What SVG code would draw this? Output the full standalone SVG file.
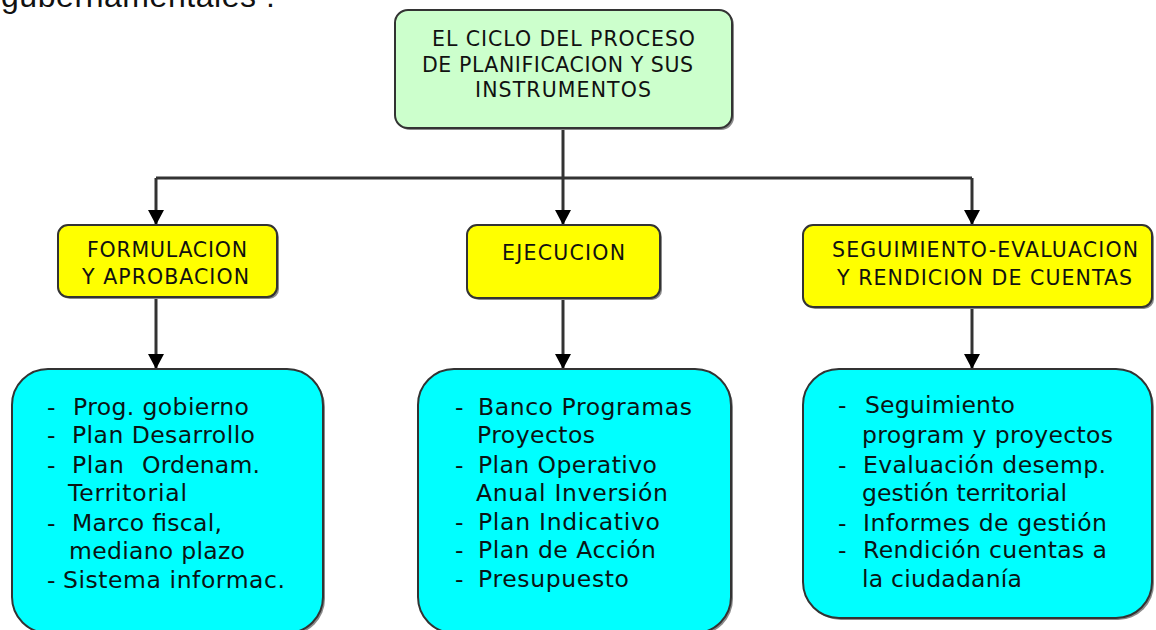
<svg xmlns="http://www.w3.org/2000/svg" width="1156" height="630" viewBox="0 0 1156 630">
<defs>
<style>
.sh{fill:#8a8a8a;stroke:none}
.box{stroke:#333;stroke-width:2}
.g{fill:#CCFFCC}
.y{fill:#FFFF00}
.c{fill:#00FFFF}
.hd{font-family:"DejaVu Sans",Verdana,sans-serif;font-size:20.5px;fill:#111}
.it{font-family:"DejaVu Sans",Verdana,sans-serif;font-size:23.5px;fill:#0a1414}
.conn{stroke:#333;stroke-width:3;fill:none}
</style>
<marker id="arr" markerWidth="15" markerHeight="16" refX="15" refY="8" orient="auto" markerUnits="userSpaceOnUse">
<path d="M0,0 L15,8 L0,16 z" fill="#000"/>
</marker>
</defs>
<rect width="1156" height="630" fill="#fff"/>
<text x="1" y="7" font-family="Liberation Sans,Arial,sans-serif" font-size="32" fill="#111" textLength="274" lengthAdjust="spacing">gubernamentales :</text>

<g id="connectors">
<path class="conn" d="M563,128 V178"/>
<path class="conn" d="M156,178 H972"/>
<path class="conn" d="M156,178 V225" marker-end="url(#arr)"/>
<path class="conn" d="M563,178 V225" marker-end="url(#arr)"/>
<path class="conn" d="M972,178 V225" marker-end="url(#arr)"/>
<path class="conn" d="M156,297 V369" marker-end="url(#arr)"/>
<path class="conn" d="M563,298 V369" marker-end="url(#arr)"/>
<path class="conn" d="M972,307 V369" marker-end="url(#arr)"/>
</g>

<g id="top">
<rect class="sh" x="397" y="12" width="337" height="118" rx="13"/>
<rect class="box g" x="395" y="10" width="337" height="118" rx="13"/>
<text class="hd" x="432" y="46" textLength="263" lengthAdjust="spacing">EL CICLO DEL PROCESO</text>
<text class="hd" x="422" y="72" textLength="271" lengthAdjust="spacing">DE PLANIFICACION Y SUS</text>
<text class="hd" x="475" y="97" textLength="176" lengthAdjust="spacing">INSTRUMENTOS</text>
</g>

<g id="formulacion">
<rect class="sh" x="60" y="227" width="219" height="72" rx="10"/>
<rect class="box y" x="58" y="225" width="219" height="72" rx="10"/>
<text class="hd" x="87" y="257" textLength="160" lengthAdjust="spacing">FORMULACION</text>
<text class="hd" x="82" y="284" textLength="167" lengthAdjust="spacing">Y APROBACION</text>
</g>

<g id="ejecucion">
<rect class="sh" x="469" y="227" width="193" height="73" rx="10"/>
<rect class="box y" x="467" y="225" width="193" height="73" rx="10"/>
<text class="hd" x="502" y="260" textLength="123" lengthAdjust="spacing">EJECUCION</text>
</g>

<g id="seguimiento">
<rect class="sh" x="805" y="227" width="349" height="82" rx="10"/>
<rect class="box y" x="803" y="225" width="349" height="82" rx="10"/>
<text class="hd" x="832" y="257" textLength="306" lengthAdjust="spacing">SEGUIMIENTO-EVALUACION</text>
<text class="hd" x="837" y="285" textLength="295" lengthAdjust="spacing">Y RENDICION DE CUENTAS</text>
</g>

<g id="instr-formulacion">
<rect class="sh" x="14" y="371" width="311" height="264" rx="36"/>
<rect class="box c" x="12" y="369" width="311" height="264" rx="36"/>
<text class="it" x="47" y="415">-</text><text class="it" x="73" y="415" textLength="176" lengthAdjust="spacing">Prog. gobierno</text>
<text class="it" x="47" y="443">-</text><text class="it" x="72" y="443" textLength="183" lengthAdjust="spacing">Plan Desarrollo</text>
<text class="it" x="47" y="473">-</text><text class="it" x="72" y="473" textLength="52" lengthAdjust="spacing">Plan</text><text class="it" x="142" y="473" textLength="118" lengthAdjust="spacing">Ordenam.</text>
<text class="it" x="68" y="501" textLength="119" lengthAdjust="spacing">Territorial</text>
<text class="it" x="47" y="531">-</text><text class="it" x="72" y="531" textLength="150" lengthAdjust="spacing">Marco fiscal,</text>
<text class="it" x="69" y="559" textLength="176" lengthAdjust="spacing">mediano plazo</text>
<text class="it" x="47" y="588">-</text><text class="it" x="63" y="588" textLength="222" lengthAdjust="spacing">Sistema informac.</text>
</g>

<g id="instr-ejecucion">
<rect class="sh" x="420" y="371" width="313" height="264" rx="36"/>
<rect class="box c" x="418" y="369" width="313" height="264" rx="36"/>
<text class="it" x="455" y="415">-</text><text class="it" x="478" y="415" textLength="214" lengthAdjust="spacing">Banco Programas</text>
<text class="it" x="477" y="443" textLength="118" lengthAdjust="spacing">Proyectos</text>
<text class="it" x="455" y="473">-</text><text class="it" x="478" y="473" textLength="179" lengthAdjust="spacing">Plan Operativo</text>
<text class="it" x="476" y="501" textLength="192" lengthAdjust="spacing">Anual Inversión</text>
<text class="it" x="455" y="530">-</text><text class="it" x="478" y="530" textLength="182" lengthAdjust="spacing">Plan Indicativo</text>
<text class="it" x="455" y="558">-</text><text class="it" x="478" y="558" textLength="178" lengthAdjust="spacing">Plan de Acción</text>
<text class="it" x="455" y="587">-</text><text class="it" x="478" y="587" textLength="151" lengthAdjust="spacing">Presupuesto</text>
</g>

<g id="instr-seguimiento">
<rect class="sh" x="805" y="371" width="349" height="249" rx="36"/>
<rect class="box c" x="803" y="369" width="349" height="249" rx="36"/>
<text class="it" x="838" y="413">-</text><text class="it" x="865" y="413" textLength="150" lengthAdjust="spacing">Seguimiento</text>
<text class="it" x="862" y="443" textLength="251" lengthAdjust="spacing">program y proyectos</text>
<text class="it" x="838" y="473">-</text><text class="it" x="863" y="473" textLength="243" lengthAdjust="spacing">Evaluación desemp.</text>
<text class="it" x="862" y="501" textLength="205" lengthAdjust="spacing">gestión territorial</text>
<text class="it" x="838" y="531">-</text><text class="it" x="863" y="531" textLength="244" lengthAdjust="spacing">Informes de gestión</text>
<text class="it" x="838" y="558">-</text><text class="it" x="863" y="558" textLength="244" lengthAdjust="spacing">Rendición cuentas a</text>
<text class="it" x="862" y="587" textLength="160" lengthAdjust="spacing">la ciudadanía</text>
</g>
</svg>
